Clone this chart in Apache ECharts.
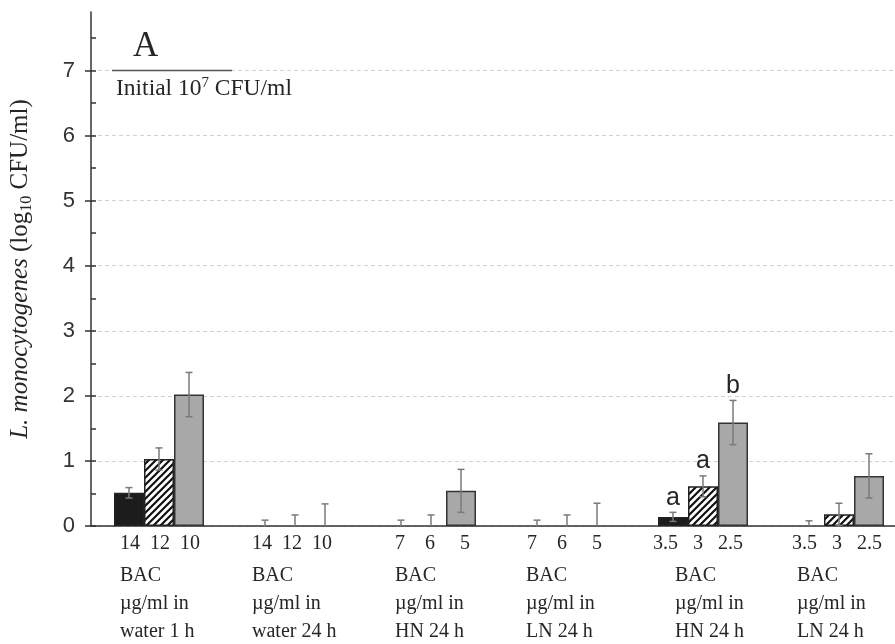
<!DOCTYPE html>
<html>
<head>
<meta charset="utf-8">
<script src="https://cdn.jsdelivr.net/npm/echarts@6/dist/echarts.min.js"></script>
<style>
  html, body { margin: 0; padding: 0; background: #fff; }
  #chart { width: 895px; height: 644px; }
</style>
</head>
<body>
<div id="chart"></div>
<script>
// Treatment groups (medium and exposure time) and the BAC concentrations tested in each
const groups = ['water 1 h', 'water 24 h', 'HN 24 h', 'LN 24 h', 'HN 24 h', 'LN 24 h'];
const concentrations = ['14  12  10', '14  12  10', '7    6     5', '7    6     5', '3.5   3   2.5', '3.5   3   2.5'];

// Surviving L. monocytogenes, log10 CFU/ml (mean and SD) at the high, middle and low BAC level
const highDose   = [0.51, 0, 0, 0, 0.14, 0];
const highDoseSD = [0.08, 0.09, 0.09, 0.09, 0.07, 0.08];
const midDose    = [1.03, 0, 0, 0, 0.61, 0.18];
const midDoseSD  = [0.17, 0.17, 0.17, 0.17, 0.16, 0.17];
const lowDose    = [2.02, 0, 0.54, 0, 1.59, 0.77];
const lowDoseSD  = [0.34, 0.34, 0.33, 0.35, 0.34, 0.34];

// Significance letters
const highLetters = ['', '', '', '', 'a', ''];
const midLetters  = ['', '', '', '', 'a', ''];
const lowLetters  = ['', '', '', '', 'b', ''];

// Initial inoculum level and y-axis ticks
const initialLog = 7;
const yTicks = [0, 1, 2, 3, 4, 5, 6, 7];

// ---- layout ----
const BAR_W = 30;
const SERIF = '"Liberation Serif", "Times New Roman", serif';
const SANS = '"Liberation Sans", Arial, sans-serif';
const TEXT = '#262626';
// left indent of the number line / text lines inside each category label block
const labelIndent = [[31, 31], [27, 27], [34, 34], [30, 29], [20, 42], [23, 28]];
// horizontal extent of the initial-level line, in category units
const INIT_FROM = 0.154, INIT_TO = 1.037;

function hatchPattern() {
  const s = 7;
  const c = document.createElement('canvas');
  c.width = s; c.height = s;
  const ctx = c.getContext('2d');
  ctx.fillStyle = '#fff';
  ctx.fillRect(0, 0, s, s);
  ctx.strokeStyle = '#111';
  ctx.lineWidth = 2.2;
  ctx.beginPath();
  ctx.moveTo(-1, s + 1); ctx.lineTo(s + 1, -1);
  ctx.moveTo(-1, 1); ctx.lineTo(1, -1);
  ctx.moveTo(s - 1, s + 1); ctx.lineTo(s + 1, s - 1);
  ctx.stroke();
  return c;
}

const rich = {};
labelIndent.forEach(([pn, pt], i) => {
  rich['n' + i] = { fontFamily: SERIF, fontSize: 20, color: TEXT, width: 100, align: 'left',
                    padding: [0, 40 - pn, 0, pn], lineHeight: 36 };
  rich['t' + i] = { fontFamily: SERIF, fontSize: 20, color: TEXT, width: 100, align: 'left',
                    padding: [0, 40 - pt, 0, pt], lineHeight: 28 };
});

// zero means are drawn without an outline so the baseline stays even
const barData = values => values.map(v => (v > 0 ? v : { value: v, itemStyle: { borderWidth: 0 } }));

// error bar items: [group, mean, sd, slot]
const errData = [];
const errLetters = [];
[[highDose, highDoseSD, highLetters], [midDose, midDoseSD, midLetters], [lowDose, lowDoseSD, lowLetters]]
  .forEach(([m, sd, lt], slot) => {
    m.forEach((v, g) => { errData.push([g, v, sd[g], slot]); errLetters.push(lt[g]); });
  });

const chart = echarts.init(document.getElementById('chart'), null, { renderer: 'canvas' });

chart.setOption({
  animation: false,
  backgroundColor: '#fff',
  title: [
    { text: 'A', left: 133, top: 29, padding: 0,
      textStyle: { fontFamily: SERIF, fontSize: 35, fontWeight: 'normal', color: TEXT } },
    { text: 'Initial 10{sup|7} CFU/ml', left: 116, top: 76, padding: 0,
      textStyle: { fontFamily: SERIF, fontSize: 23.5, fontWeight: 'normal', color: TEXT,
        rich: { sup: { fontFamily: SERIF, fontSize: 15, color: TEXT, padding: [0, 0, 10, 0] } } } }
  ],
  grid: { left: 91, top: 12, width: 816, height: 514, outerBoundsMode: 'none', containLabel: false },
  xAxis: [{
    type: 'category',
    data: groups,
    axisLine: { lineStyle: { color: '#333', width: 1.5 } },
    axisTick: { show: false },
    axisLabel: {
      interval: 0, margin: 0, align: 'center',
      formatter: (v, i) => `{n${i}|${concentrations[i]}}\n{t${i}|BAC}\n{t${i}|µg/ml in}\n{t${i}|${v}}`,
      rich
    }
  }, {
    type: 'value', min: 0, max: groups.length, show: false
  }],
  yAxis: [{
    type: 'value', min: 0, max: 7.9, position: 'left',
    axisLine: { show: true, lineStyle: { color: '#333', width: 1.5 } },
    axisTick: { show: true, inside: false, length: 6, customValues: yTicks,
                lineStyle: { color: '#333', width: 1.5 } },
    axisLabel: { customValues: yTicks, margin: 16, fontFamily: SANS, fontSize: 22, color: '#333' },
    splitLine: { show: true, lineStyle: { type: [4, 3], color: '#d2d2d2', width: 1 } },
    name: '{i|L. monocytogenes} (log{s|10} CFU/ml)',
    nameLocation: 'middle', nameRotate: 90, nameGap: 56,
    nameTextStyle: {
      fontFamily: SERIF, fontSize: 25, color: TEXT,
      rich: {
        i: { fontFamily: SERIF, fontSize: 25, fontStyle: 'italic', color: TEXT },
        s: { fontFamily: SERIF, fontSize: 16, color: TEXT, padding: [13, 0, 0, 0] }
      }
    }
  }, {
    type: 'value', min: 0, max: 7.9, position: 'left', offset: 0,
    axisLine: { show: false }, axisLabel: { show: false }, splitLine: { show: false },
    axisTick: { show: true, inside: true, length: 5,
                customValues: yTicks.flatMap(v => [v, v + 0.5]),
                lineStyle: { color: '#333', width: 1.5 } }
  }],
  series: [
    { name: 'high', type: 'bar', data: barData(highDose), barWidth: BAR_W, barGap: '0%',
      itemStyle: { color: '#1c1c1c', borderColor: '#222', borderWidth: 1.5 } },
    { name: 'mid', type: 'bar', data: barData(midDose), barWidth: BAR_W, barGap: '0%',
      itemStyle: { color: { image: hatchPattern(), repeat: 'repeat' }, borderColor: '#222', borderWidth: 1.5 } },
    { name: 'low', type: 'bar', data: barData(lowDose), barWidth: BAR_W, barGap: '0%',
      itemStyle: { color: '#a8a8a8', borderColor: '#333', borderWidth: 1.5 } },
    {
      type: 'custom', z: 5, silent: true,
      data: errData,
      encode: { x: 0, y: 1 },
      renderItem(params, api) {
        const g = api.value(0), mean = api.value(1), sd = api.value(2), slot = api.value(3);
        const x = api.coord([g, 0])[0] + (slot - 1) * BAR_W;
        const yTop = api.coord([g, mean + sd])[1];
        const yBot = api.coord([g, Math.max(mean - sd, 0)])[1];
        const cap = 3.5;
        const style = { stroke: '#7a7a7a', lineWidth: 1.5, fill: null };
        const children = [
          { type: 'line', shape: { x1: x, y1: yTop, x2: x, y2: yBot }, style },
          { type: 'line', shape: { x1: x - cap, y1: yTop, x2: x + cap, y2: yTop }, style }
        ];
        if (mean - sd > 0) {
          children.push({ type: 'line', shape: { x1: x - cap, y1: yBot, x2: x + cap, y2: yBot }, style });
        }
        const letter = errLetters[params.dataIndex];
        if (letter) {
          children.push({ type: 'text', style: { text: letter, x, y: yTop - 2, align: 'center',
            verticalAlign: 'bottom', font: '25px ' + SANS, fill: TEXT } });
        }
        return { type: 'group', children };
      }
    },
    {
      type: 'line', xAxisIndex: 1, yAxisIndex: 0, silent: true, symbol: 'none', z: 4,
      data: [[INIT_FROM, initialLog], [INIT_TO, initialLog]],
      lineStyle: { color: '#555', width: 1.5 }
    }
  ]
});
</script>
</body>
</html>
